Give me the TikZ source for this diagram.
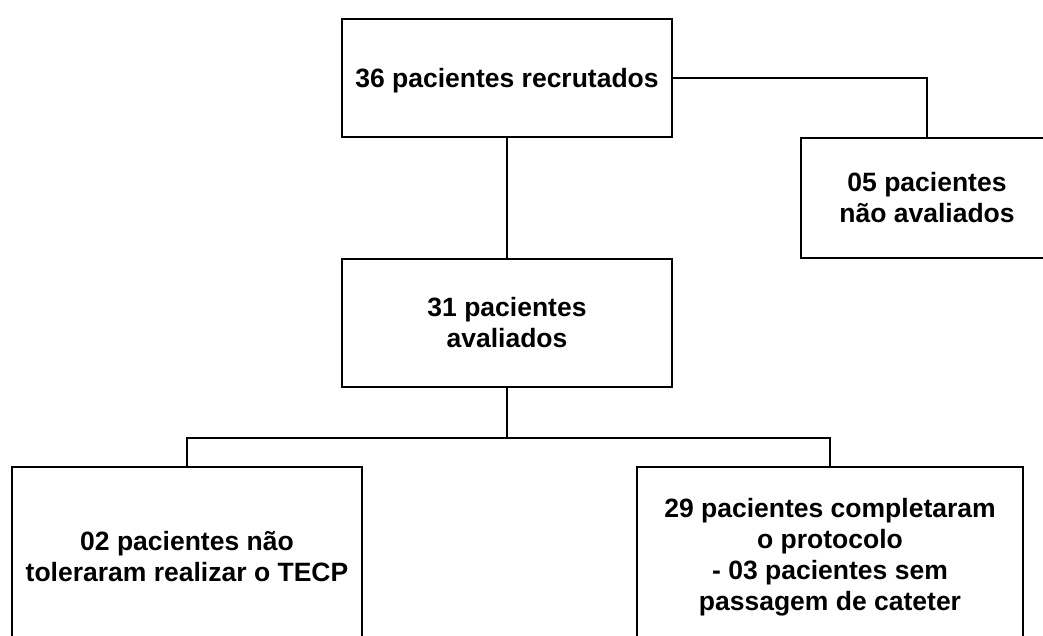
\documentclass[tikz,border=0pt]{standalone}
\usepackage{fontspec}
\setmainfont{Liberation Sans}
\begin{document}
\begin{tikzpicture}[x=1pt,y=-1pt,
  box/.style={draw=black,line width=2.2pt,rectangle,inner sep=0pt,align=center,
    font=\fontsize{26.5}{31}\selectfont\bfseries},
  conn/.style={draw=black,line width=2.2pt}]
\useasboundingbox (0,0) rectangle (1043,635);
\clip (0,0) rectangle (1043,635);
\fill[white] (0,0) rectangle (1043,635);
\node[box,minimum width=330pt,minimum height=118pt,text depth=0pt] (b1) at (507,78) {36 pacientes recrutados};
\node[box,minimum width=252pt,minimum height=120pt] (b2) at (927,198) {05 pacientes\\não avaliados};
\node[box,minimum width=330pt,minimum height=128pt] (b3) at (507,323) {31 pacientes\\avaliados};
\node[box,minimum width=350pt,minimum height=180pt] (b4) at (187,557) {02 pacientes não\\toleraram realizar o TECP};
\node[box,minimum width=386pt,minimum height=180pt] (b5) at (830,557) {29 pacientes completaram\\o protocolo\\- 03 pacientes sem\\passagem de cateter};
\coordinate (j) at (507,438);
\draw[conn] (b1.east) -| (b2.north);
\draw[conn] (b1.south) -- (b3.north);
\draw[conn] (b3.south) -- (j);
\draw[conn] (j) -| (b4.north);
\draw[conn] (j) -| (b5.north);
\end{tikzpicture}
\end{document}
